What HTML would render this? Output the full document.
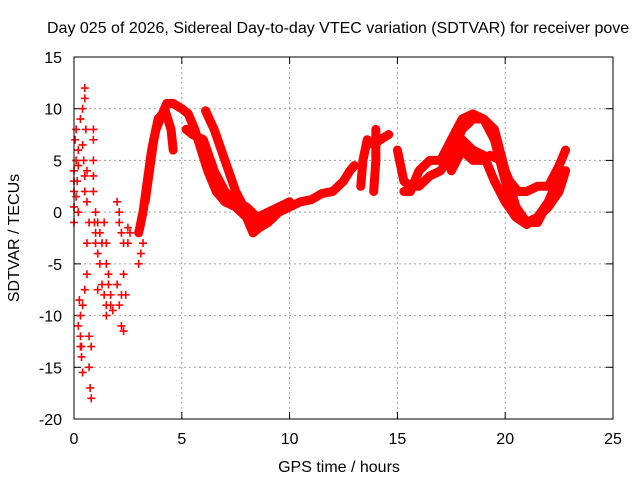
<!DOCTYPE html>
<html><head><meta charset="utf-8"><style>
body{margin:0;background:#fff}
svg{font-family:"Liberation Sans",sans-serif;font-size:16px}
</style></head><body>
<svg id="c" width="640" height="480">
<text x="47" y="33" text-anchor="start">Day 025 of 2026, Sidereal Day-to-day VTEC variation (SDTVAR) for receiver pove</text>
<text x="339" y="472" text-anchor="middle">GPS time / hours</text>
<text transform="translate(19,238) rotate(-90)" text-anchor="middle">SDTVAR / TECUs</text>
<g id="grid"></g><g id="marks"></g>
<rect x="74" y="57" width="539" height="362" fill="none" stroke="#000"/>
</svg>
<script>
const xTicks=[0,5,10,15,20,25];
const yTicks=[15,10,5,0,-5,-10,-15,-20];
const bands=[
[[3.0,-2],[3.2,0],[3.4,3],[3.6,6],[3.8,8],[4.0,9],[4.3,10.5],[4.6,10.5],[5.0,10],[5.3,9.5],[5.6,8],[5.9,6],[6.2,4],[6.6,2],[7.0,1],[7.5,0.5],[8.0,-0.5],[8.3,-2],[8.6,-1.5],[9.0,-1],[9.5,0],[10,0.5],[10.5,1],[11,1.2],[11.5,1.8],[12,2],[12.5,3],[12.8,4],[13.0,4.5]],
[[3.3,1],[3.5,4],[3.7,7],[3.9,9],[4.1,9.5]],
[[5.2,8],[5.5,7.5],[6.0,7],[6.5,4],[7.0,2],[7.5,1],[8.0,0.5],[8.5,-0.5],[9,0],[10,1]],
[[6.1,9.8],[6.5,8],[7,5],[7.5,2],[8,0],[8.5,-1],[9,-1],[9.5,0.5]],
[[4.2,10],[4.5,8],[4.6,6]],
[[13.3,2.5],[13.4,5],[13.6,7],[13.9,6.5],[14.2,7],[14.6,7.5]],
[[13.9,2],[14.0,5],[14.0,8]],
[[15.0,6],[15.3,3],[15.6,2.5],[16,2.5],[16.5,3.5],[17,4],[17.5,5.5],[18,8],[18.5,9],[19,9],[19.5,7],[20,3],[20.5,0],[21,-1],[21.5,-0.5],[22,1],[22.5,3.5],[22.8,4]],
[[15.3,2],[15.6,2],[16,4],[16.5,5],[17,5],[17.5,6],[18,7],[18.5,6],[19,5.5],[19.5,3],[20,1],[20.5,-0.5],[21,-1.2],[21.5,-0.5],[22,0.5],[22.5,2],[22.8,4]],
[[17.5,4],[18,6],[18.5,5],[19,5],[19.3,5.5],[19.8,5],[20.2,3],[20.6,2],[21,2],[21.5,2.5],[22,2.5],[22.5,4.5],[22.8,6]],
[[17,5],[17.5,7],[18,9],[18.5,9.5],[19,9],[19.5,8],[20,4],[20.5,0.5],[21,-1],[21.5,-1],[22,1]]
];
const scatter=[
[0,4],[0,2],[0,-1],[0,0.5],[0,3],[0.05,7],[0.1,8],[0.1,5],[0.1,1.5],[0.15,3],[0.2,6],[0.2,0],[0.2,4.5],[0.25,-8.5],[0.3,-10],[0.3,-12],[0.35,-14],[0.4,-15.5],[0.4,-9],[0.2,-11],[0.3,-13],[0.3,9],[0.4,10],[0.45,5],[0.5,2],[0.5,12],[0.5,11],[0.55,8],[0.6,4],[0.6,-3],[0.6,-6],[0.5,-7.5],[0.35,-13],[0.7,-12],[0.7,-15],[0.75,-17],[0.8,-18],[0.8,-13],[0.4,6.5],[0.5,3.5],[0.6,1],[0.7,-1],
[0.9,8],[0.9,5],[0.9,2],[0.95,-1],[0.9,7],[0.9,3.5],[1.0,0],[1.0,-3],[1.1,-4],[1.2,-5],[1.3,-7],[1.4,-8],[1.4,-1],[1.5,-3],[1.6,-6],[1.7,-8],[1.5,-10],[1.0,-2],[1.1,-1],[1.2,-2],[1.3,-3],[1.5,-5],[1.6,-7],[1.7,-9],[1.8,-9.5],
[2.0,1],[2.1,-1],[2.2,-2],[2.3,-3],[2.0,-7],[2.1,-9],[2.2,-11],[2.3,-11.5],[2.4,-8],[2.5,-1.5],[2.1,0],[2.2,-8],[2.3,-6],[2.5,-3],[2.6,-2],
[3.0,-2],[3.1,-4],[3.0,-5],[1.5,-9],[1.1,-7.5],[3.1,-1],[3.2,-3]
];
const X=h=>74+h*539/25, Y=v=>57+(15-v)*362/35;
const NS="http://www.w3.org/2000/svg";
const grid=document.getElementById('grid'), marks=document.getElementById('marks');
function el(t,a,p){const e=document.createElementNS(NS,t);for(const k in a)e.setAttribute(k,a[k]);p.appendChild(e);return e;}
xTicks.forEach(t=>{
  if(t>0&&t<25){const l=el('line',{x1:X(t),x2:X(t),y1:57,y2:419,stroke:'#a0a0a0','stroke-dasharray':'2,3'},grid);
  
  }
  el('line',{x1:X(t),x2:X(t),y1:419,y2:412,stroke:'#000'},grid);
  el('line',{x1:X(t),x2:X(t),y1:57,y2:64,stroke:'#000'},grid);
  const tx=el('text',{x:X(t),y:444,'text-anchor':'middle'},grid);tx.textContent=t;
  
  
});
yTicks.forEach(t=>{
  if(t>-20&&t<15){const l=el('line',{x1:74,x2:613,y1:Y(t),y2:Y(t),stroke:'#a0a0a0','stroke-dasharray':'2,3'},grid);
  
  }
  el('line',{x1:74,x2:81,y1:Y(t),y2:Y(t),stroke:'#000'},grid);
  el('line',{x1:606,x2:613,y1:Y(t),y2:Y(t),stroke:'#000'},grid);
  const tx=el('text',{x:62,y:Y(t)+6,'text-anchor':'end'},grid);tx.textContent=t;
  
  
});
function plus(h,v){
  const p=el('path',{d:`M${X(h)-4},${Y(v)}h8M${X(h)},${Y(v)-4}v8`,stroke:'#f00','stroke-width':1.6},marks);
  
  
}
bands.forEach(s=>{
  const pl=el('polyline',{points:s.map(p=>X(p[0])+','+Y(p[1])).join(' '),fill:'none',stroke:'#f00','stroke-width':9,'stroke-linejoin':'round','stroke-linecap':'round'},marks);
  
  
  s.forEach(p=>plus(p[0],p[1]));
});
scatter.forEach(p=>plus(p[0],p[1]));
</script>
</body></html>
